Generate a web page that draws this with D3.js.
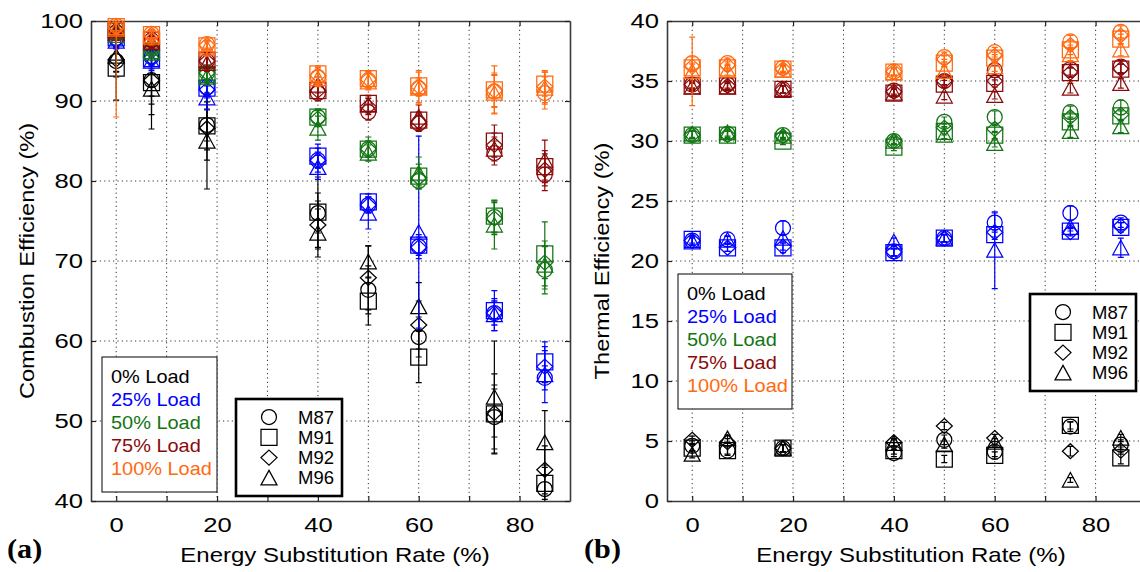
<!DOCTYPE html>
<html>
<head>
<meta charset="utf-8">
<script src="https://cdn.jsdelivr.net/npm/d3@7"></script>
<style>
  body { margin: 0; background: #fff; }
  svg { display: block; font-family: "Liberation Sans", Arial, Helvetica, sans-serif; }
</style>
</head>
<body>
<svg id="chart" width="1140" height="572"></svg>
<script>
// ---- categories ----
const esr = [0, 7, 18, 40, 50, 60, 75, 85];            // energy substitution rate (%)
const fuels = ["M87", "M91", "M92", "M96"];
const fuelShapes = ["circle", "square", "diamond", "triangle"];
const loads = ["0% Load", "25% Load", "50% Load", "75% Load", "100% Load"];
const loadColors = ["#000000", "#0000ff", "#127512", "#8a0a0a", "#ff6a10"];

// ---- tick values ----
const xTickValues = [0, 10, 20, 30, 40, 50, 60, 70, 80];
const xTickLabels = [0, 20, 40, 60, 80];
const combTicks = [40, 50, 60, 70, 80, 90, 100];
const thermTicks = [0, 5, 10, 15, 20, 25, 30, 35, 40];

// ---- (a) combustion efficiency (%), rows: M87, M91, M92, M96 ----
const comb0 = [
  [95.0, 92.6, 87.0, 76.0, 66.4, 60.5, 50.5, 41.5],
  [94.1, 92.3, 86.9, 76.1, 65.0, 58.0, 50.9, 42.2],
  [95.2, 92.6, 86.6, 74.5, 67.9, 62.0, 51.0, 43.9],
  [95.6, 91.5, 85.0, 73.5, 69.9, 64.3, 53.0, 47.3]
];
const comb25 = [
  [97.8, 95.5, 91.7, 82.6, 77.0, 71.8, 63.5, 55.4],
  [97.9, 95.3, 91.6, 83.1, 77.4, 72.0, 63.8, 57.4],
  [97.6, 95.4, 91.4, 82.6, 77.0, 71.7, 63.5, 56.8],
  [97.5, 95.0, 90.4, 81.7, 76.0, 73.6, 63.3, 55.8]
];
const comb50 = [
  [98.6, 96.5, 93.5, 88.0, 84.0, 80.0, 75.5, 68.9],
  [98.7, 96.3, 93.3, 88.0, 84.0, 80.6, 75.6, 70.9],
  [98.5, 96.5, 93.5, 87.8, 84.0, 80.4, 75.3, 69.8],
  [98.2, 96.0, 93.0, 86.6, 83.5, 81.0, 74.5, 69.5]
];
const comb75 = [
  [99.0, 97.6, 95.0, 91.0, 88.6, 87.2, 83.5, 80.8],
  [98.9, 97.6, 95.1, 91.3, 89.7, 87.6, 85.0, 81.8],
  [98.9, 97.5, 95.0, 91.3, 89.3, 87.4, 84.5, 81.4],
  [98.5, 97.3, 94.7, 92.0, 89.5, 88.0, 84.0, 82.6]
];
const comb100 = [
  [99.4, 98.4, 97.1, 93.0, 92.6, 91.6, 91.2, 91.0],
  [99.3, 98.3, 96.9, 93.4, 92.8, 91.9, 91.4, 92.1],
  [99.3, 98.3, 97.0, 93.2, 92.7, 91.8, 91.3, 91.8],
  [99.0, 98.0, 96.6, 92.8, 92.4, 91.6, 91.0, 91.6]
];

// ---- (a) error half-widths ----
const combErr0 = [
  [2, 2, 2, 2.5, 3, 2.5, 4, 3],
  [4, 4, 3, 4.4, 3, 3.2, 5, 2],
  [1.5, 3, 4, 3, 4, 3, 3, 3],
  [2, 5, 6, 3, 2, 3, 7, 4]
];
const combErr25 = [
  [1, 1, 1, 1.5, 1, 1.5, 1.5, 1.5],
  [1, 1.5, 1, 1.5, 1, 1, 2.5, 2.5],
  [1, 1, 1, 1, 1, 1, 1.5, 2],
  [1, 1, 1.5, 1.5, 2, 12, 2, 3.5]
];
const combErr50 = [
  [0.5, 0.5, 1, 1, 1, 1, 2, 3],
  [0.5, 0.5, 1, 1, 1.5, 1.5, 2, 4],
  [0.5, 0.5, 1, 1, 1, 1, 2, 2],
  [0.5, 0.5, 1, 1.5, 1, 2, 3, 3]
];
const combErr75 = [
  [0.5, 0.5, 1, 1, 1, 1, 1.5, 2],
  [0.5, 0.5, 1, 1, 1, 1, 2, 2],
  [0.5, 0.5, 1, 1, 1, 1, 1.5, 2],
  [0.5, 0.5, 1, 1, 1, 1.5, 1.5, 2.5]
];
const combErr100 = [
  [1, 0.5, 0.5, 1, 1, 1, 2, 2],
  [0.5, 0.5, 0.5, 1, 1, 1, 3, 1.5],
  [1, 0.5, 0.5, 1, 1, 2, 2, 2],
  [11, 1, 1, 1, 1, 2, 2.5, 2]
];

// ---- (b) thermal efficiency (%), rows: M87, M91, M92, M96 ----
const therm0 = [
  [4.6, 4.2, 4.4, 4.0, 5.1, 4.1, 6.2, 4.7],
  [4.4, 4.2, 4.4, 4.2, 3.5, 3.8, 6.3, 3.6],
  [5.1, 4.9, 4.4, 4.9, 6.25, 5.25, 4.15, 4.2],
  [3.9, 5.2, 4.4, 4.8, 4.7, 4.9, 1.75, 5.25]
];
const therm25 = [
  [21.7, 21.8, 22.75, 20.8, 21.9, 23.2, 24.0, 23.2],
  [21.8, 21.1, 21.1, 20.7, 21.9, 22.2, 22.5, 22.8],
  [21.7, 21.1, 21.2, 20.75, 21.9, 22.4, 22.4, 22.9],
  [21.6, 21.75, 21.9, 21.6, 21.9, 20.9, 22.8, 21.1]
];
const therm50 = [
  [30.5, 30.6, 30.5, 30.0, 31.6, 32.0, 32.4, 32.8],
  [30.5, 30.5, 30.0, 29.5, 30.8, 30.5, 31.6, 32.1],
  [30.5, 30.5, 30.4, 30.0, 31.1, 31.0, 32.0, 32.2],
  [30.6, 30.7, 30.4, 30.0, 30.5, 29.8, 30.8, 31.2]
];
const therm75 = [
  [34.7, 34.7, 34.3, 34.2, 35.0, 35.9, 36.0, 36.2],
  [34.6, 34.6, 34.3, 34.0, 34.75, 34.8, 35.7, 36.0],
  [34.7, 34.6, 34.3, 34.1, 35.0, 35.0, 35.7, 36.0],
  [34.5, 34.5, 34.3, 34.0, 33.75, 33.8, 34.4, 34.8]
];
const therm100 = [
  [36.5, 36.5, 36.1, 35.8, 37.0, 37.4, 38.3, 39.1],
  [36.1, 36.1, 36.0, 35.75, 36.5, 36.9, 37.6, 38.5],
  [36.2, 36.3, 36.0, 35.8, 36.8, 37.1, 38.0, 38.8],
  [35.8, 35.9, 35.9, 35.7, 35.8, 36.2, 37.2, 37.6]
];

// ---- (b) error half-widths ----
const thermErr0 = [
  [0.4, 0.4, 0.3, 0.3, 0.4, 0.4, 0.4, 0.4],
  [0.3, 0.3, 0.3, 0.3, 0.3, 0.3, 0.3, 0.5],
  [0.3, 0.3, 0.3, 0.3, 0.3, 0.3, 0.4, 0.3],
  [0.3, 0.3, 0.3, 0.3, 0.3, 0.3, 0.2, 0.3]
];
const thermErr25 = [
  [0.4, 0.3, 0.6, 0.4, 0.3, 0.8, 0.6, 0.4],
  [0.3, 0.3, 0.4, 0.3, 0.3, 0.4, 0.3, 0.4],
  [0.3, 0.3, 0.3, 0.3, 0.3, 0.4, 0.3, 0.3],
  [0.3, 0.3, 0.3, 0.3, 0.3, 3.2, 0.3, 0.8]
];
const thermErr50 = [
  [0.3, 0.3, 0.3, 0.3, 0.4, 0.5, 0.5, 0.6],
  [0.3, 0.3, 0.3, 0.3, 0.3, 0.3, 0.4, 0.4],
  [0.3, 0.3, 0.3, 0.3, 0.3, 0.3, 0.4, 0.4],
  [0.3, 0.3, 0.3, 0.3, 0.3, 0.3, 0.5, 0.5]
];
const thermErr75 = [
  [0.3, 0.3, 0.3, 0.3, 0.4, 0.4, 0.5, 0.5],
  [0.3, 0.3, 0.3, 0.3, 0.3, 0.3, 0.4, 0.4],
  [0.3, 0.3, 0.3, 0.3, 0.3, 0.3, 0.4, 0.4],
  [0.3, 0.3, 0.3, 0.3, 0.3, 0.3, 0.4, 0.4]
];
const thermErr100 = [
  [0.5, 0.4, 0.3, 0.3, 0.4, 0.4, 0.5, 0.5],
  [0.3, 0.3, 0.3, 0.3, 0.3, 0.3, 0.4, 0.4],
  [0.3, 0.3, 0.3, 0.3, 0.3, 0.3, 0.4, 0.4],
  [2.85, 0.4, 0.3, 0.3, 0.4, 0.4, 0.5, 0.5]
];

const combByLoad = [comb0, comb25, comb50, comb75, comb100];
const combErrByLoad = [combErr0, combErr25, combErr50, combErr75, combErr100];
const thermByLoad = [therm0, therm25, therm50, therm75, therm100];
const thermErrByLoad = [thermErr0, thermErr25, thermErr50, thermErr75, thermErr100];

// ---- drawing ----
const svg = d3.select("#chart");
svg.append("rect").attr("width", 1140).attr("height", 572).attr("fill", "#fff");

const TXT = "#000";
const TICK_STRETCH = 1.22;
const SANS = '"Liberation Sans", Arial, Helvetica, sans-serif';
const SERIF = '"Liberation Serif", "Times New Roman", Times, serif';

function markerPath(shape) {
  switch (shape) {
    case "circle":   return "M7.5,0A7.5,7.5 0 1,1 -7.5,0A7.5,7.5 0 1,1 7.5,0Z";
    case "square":   return "M-8,-8H8V8H-8Z";
    case "diamond":  return "M0,-7.5L8,0L0,7.5L-8,0Z";
    case "triangle": return "M0,-7.5L8,7L-8,7Z";
  }
}

// widen text horizontally around its own anchor point
function stretch(sel, sx) {
  sel.each(function () {
    const t = d3.select(this);
    const x = +t.attr("x") || 0;
    t.attr("transform", `translate(${x},0) scale(${sx},1) translate(${-x},0)`);
  });
}

function drawPanel(cfg) {
  const x = d3.scaleLinear().domain([-5, 90]).range([cfg.left, cfg.left + 479]);
  const y = d3.scaleLinear().domain(cfg.yDomain).range([501, 21]);
  const g = svg.append("g");

  const clipId = "clip-" + cfg.id;
  svg.append("clipPath").attr("id", clipId)
    .append("rect").attr("x", cfg.left).attr("y", 21).attr("width", 479).attr("height", 480);

  // dotted grid
  const grid = g.append("g").attr("clip-path", `url(#${clipId})`)
    .attr("stroke", "#333").attr("stroke-width", 1).attr("stroke-dasharray", "1.2,3.2");
  grid.selectAll("line.gx").data(xTickValues).join("line")
    .attr("x1", d => x(d)).attr("x2", d => x(d)).attr("y1", 21).attr("y2", 501);
  grid.selectAll("line.gy").data(cfg.yTicks.slice(1, -1)).join("line")
    .attr("y1", d => y(d)).attr("y2", d => y(d)).attr("x1", cfg.left).attr("x2", cfg.left + 479);

  // axes with inward ticks on all four sides
  const fmtX = d => (xTickLabels.includes(d) ? d : "");
  const axB = g.append("g").attr("transform", "translate(0,501)")
    .call(d3.axisBottom(x).tickValues(xTickValues).tickFormat(fmtX).tickSizeInner(-5).tickSizeOuter(0).tickPadding(16));
  const axT = g.append("g").attr("transform", "translate(0,21)")
    .call(d3.axisTop(x).tickValues(xTickValues).tickFormat("").tickSizeInner(-5).tickSizeOuter(0));
  const axL = g.append("g").attr("transform", `translate(${cfg.left},0)`)
    .call(d3.axisLeft(y).tickValues(cfg.yTicks).tickSizeInner(-5).tickSizeOuter(0).tickPadding(8));
  const axR = g.append("g").attr("transform", `translate(${cfg.left + 479},0)`)
    .call(d3.axisRight(y).tickValues(cfg.yTicks).tickFormat("").tickSizeInner(-5).tickSizeOuter(0));
  [axB, axT, axL, axR].forEach(a => {
    a.attr("font-family", SANS);
    a.select(".domain").attr("stroke", "#3a3a3a").attr("stroke-width", 1.6);
    a.selectAll(".tick line").attr("stroke", "#222").attr("stroke-width", 1.2);
    a.selectAll("text").attr("font-size", 21).attr("fill", TXT);
  });
  stretch(axB.selectAll("text"), TICK_STRETCH);
  stretch(axL.selectAll("text"), TICK_STRETCH);

  // error bars (clipped to the plot box) and hollow markers, load by load
  const marks = g.append("g");
  loads.forEach((load, li) => {
    const color = loadColors[li];
    const vals = cfg.values[li];
    const errs = cfg.errors[li];
    fuels.forEach((fuel, fi) => {
      const pts = esr.map((e, k) => ({ e, v: vals[fi][k], err: errs[fi][k] }));
      const eb = marks.append("g").attr("clip-path", `url(#${clipId})`)
        .attr("stroke", color).attr("stroke-width", 1.2).attr("fill", "none");
      eb.selectAll("path").data(pts).join("path")
        .attr("d", d => {
          const cx = x(d.e), y0 = y(d.v - d.err), y1 = y(d.v + d.err);
          return `M${cx},${y0}V${y1}M${cx - 3},${y0}H${cx + 3}M${cx - 3},${y1}H${cx + 3}`;
        });
      marks.append("g").selectAll("path").data(pts).join("path")
        .attr("transform", d => `translate(${x(d.e)},${y(d.v)})`)
        .attr("d", markerPath(fuelShapes[fi]))
        .attr("fill", "none").attr("stroke", color).attr("stroke-width", 1.25);
    });
  });

  // axis titles and panel tag
  svg.append("text")
    .attr("transform", `translate(${cfg.yTitleX},${cfg.yTitleY}) rotate(-90) scale(1.18,1)`)
    .attr("text-anchor", "middle").attr("font-size", 20).attr("fill", TXT)
    .text(cfg.yTitle);
  svg.append("text")
    .attr("transform", `translate(${cfg.xTitleX},562) scale(1.2,1)`)
    .attr("text-anchor", "middle").attr("font-size", 20).attr("fill", TXT)
    .text("Energy Substitution Rate (%)");
  svg.append("text")
    .attr("transform", `translate(${cfg.tagX},558) scale(1.12,1)`)
    .style("font-family", SERIF)
    .attr("font-weight", "bold").attr("font-size", 27).attr("fill", TXT)
    .text(cfg.tag);

  // load legend (coloured text)
  const L = cfg.loadLegend;
  svg.append("rect").attr("x", L.x).attr("y", L.y).attr("width", L.w).attr("height", L.h)
    .attr("fill", "#fff").attr("stroke", "#000").attr("stroke-width", 1);
  svg.append("g").selectAll("text").data(loads).join("text")
    .attr("transform", (d, i) => `translate(${L.x + 9},${L.y + 26 + i * 23}) scale(1.05,1)`)
    .attr("font-size", 19).attr("fill", (d, i) => loadColors[i])
    .text(d => d);

  // fuel legend (marker shapes)
  const F = cfg.fuelLegend;
  svg.append("rect").attr("x", F.x).attr("y", F.y).attr("width", F.w).attr("height", F.h)
    .attr("fill", "#fff").attr("stroke", "#000").attr("stroke-width", 2.6);
  const rows = svg.append("g").selectAll("g").data(fuels).join("g")
    .attr("transform", (d, i) => `translate(${F.x},${F.y + 18 + i * 20.3})`);
  rows.append("path").attr("transform", "translate(33,0)")
    .attr("d", (d, i) => markerPath(fuelShapes[i]))
    .attr("fill", "none").attr("stroke", "#000").attr("stroke-width", 1.25);
  rows.append("text").attr("x", 62).attr("y", 6.5).attr("font-size", 18.5).attr("fill", TXT)
    .text(d => d);
}

drawPanel({
  id: "a", left: 91, yDomain: [40, 100], yTicks: combTicks,
  values: combByLoad, errors: combErrByLoad,
  yTitle: "Combustion Efficiency (%)", yTitleX: 34, yTitleY: 261,
  xTitleX: 335, tag: "(a)", tagX: 7,
  loadLegend: { x: 102, y: 357, w: 115, h: 135 },
  fuelLegend: { x: 236, y: 399, w: 106, h: 97 }
});
drawPanel({
  id: "b", left: 667, yDomain: [0, 40], yTicks: thermTicks,
  values: thermByLoad, errors: thermErrByLoad,
  yTitle: "Thermal Efficiency (%)", yTitleX: 609, yTitleY: 261,
  xTitleX: 911, tag: "(b)", tagX: 584,
  loadLegend: { x: 678, y: 274, w: 114, h: 135 },
  fuelLegend: { x: 1030, y: 294, w: 106, h: 97 }
});
</script>
</body>
</html>
